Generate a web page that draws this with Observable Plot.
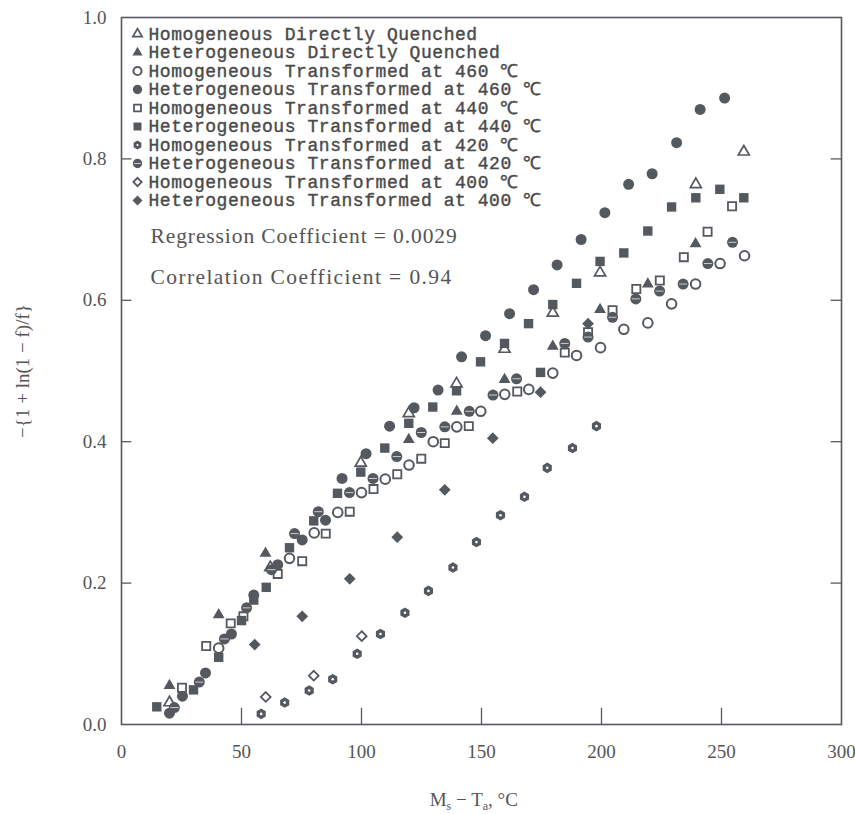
<!DOCTYPE html>
<html><head><meta charset="utf-8">
<script src="https://cdn.jsdelivr.net/npm/d3@7"></script>
<script src="https://cdn.jsdelivr.net/npm/@observablehq/plot@0.6"></script>
<style>html,body{margin:0;padding:0;background:#fff}svg{display:block}</style>
</head><body><div id="chart"></div>
<script>
// ---- data (Ms - Ta in °C, -{1+ln(1-f)/f}) ----
const seriesLabels = [
  "Homogeneous Directly Quenched",
  "Heterogeneous Directly Quenched",
  "Homogeneous Transformed at 460 ℃",
  "Heterogeneous Transformed at 460 ℃",
  "Homogeneous Transformed at 440 ℃",
  "Heterogeneous Transformed at 440 ℃",
  "Homogeneous Transformed at 420 ℃",
  "Heterogeneous Transformed at 420 ℃",
  "Homogeneous Transformed at 400 ℃",
  "Heterogeneous Transformed at 400 ℃"
];
const homDQ = [[20,0.031],[62,0.222],[99.7,0.370],[119.7,0.440],[139.6,0.482],[159.6,0.531],[179.7,0.582],[199.4,0.639],[239.3,0.764],[259.3,0.810]];
const hetDQ = [[20,0.055],[40.5,0.155],[60,0.242],[119.7,0.403],[139.7,0.443],[159.6,0.488],[179.7,0.535],[199.4,0.587],[219.3,0.623],[239.2,0.680]];
const hom460 = [[40.5,0.108],[70,0.235],[80.3,0.271],[90.1,0.300],[100,0.328],[109.9,0.347],[119.8,0.367],[129.9,0.400],[139.7,0.421],[149.7,0.443],[159.7,0.467],[169.7,0.474],[179.7,0.497],[189.6,0.522],[199.6,0.533],[209.3,0.559],[219.3,0.568],[229.2,0.595],[239.2,0.623],[249.4,0.652],[259.6,0.663]];
const het460 = [[20,0.016],[25.4,0.040],[35,0.073],[45.8,0.128],[55.1,0.183],[65.1,0.226],[75.3,0.261],[85,0.289],[91.9,0.348],[101.9,0.383],[111.7,0.422],[121.9,0.448],[131.9,0.473],[141.7,0.520],[151.7,0.550],[161.7,0.581],[171.7,0.615],[181.5,0.650],[191.5,0.686],[201.4,0.724],[211.3,0.764],[221.1,0.779],[231.3,0.823],[241.1,0.870],[251.3,0.886]];
const hom440 = [[25.2,0.052],[35.3,0.111],[45.5,0.143],[50.8,0.153],[65.1,0.213],[75.3,0.231],[85.1,0.270],[95.1,0.301],[105,0.333],[114.9,0.354],[124.9,0.376],[134.7,0.398],[144.7,0.422],[164.9,0.471],[184.7,0.526],[194.4,0.555],[204.6,0.586],[214.5,0.616],[224.3,0.628],[234.3,0.661],[244.2,0.697],[254.4,0.733]];
const het440 = [[14.7,0.025],[30,0.049],[40.5,0.095],[50,0.147],[55.1,0.176],[60.3,0.194],[70,0.250],[80.1,0.288],[90,0.327],[99.7,0.357],[109.7,0.391],[119.7,0.426],[129.7,0.449],[139.6,0.472],[149.6,0.513],[159.6,0.539],[169.6,0.567],[174.6,0.498],[179.7,0.594],[189.6,0.624],[199.4,0.655],[209.3,0.667],[219.3,0.698],[229.2,0.732],[239.3,0.745],[249.3,0.757],[259.3,0.745]];
const hom420 = [[58.2,0.015],[68,0.031],[78.2,0.048],[88,0.064],[98.2,0.100],[107.9,0.128],[118.1,0.158],[127.9,0.189],[138.1,0.222],[147.9,0.258],[157.9,0.296],[167.9,0.322],[177.4,0.363],[187.9,0.391],[197.9,0.422]];
const het420 = [[22,0.024],[32.4,0.060],[42.9,0.121],[52.1,0.165],[62.5,0.219],[72.1,0.270],[82,0.301],[95,0.328],[104.8,0.348],[114.7,0.379],[124.9,0.413],[134.7,0.421],[144.9,0.443],[154.8,0.466],[164.6,0.489],[184.7,0.539],[194.4,0.548],[204.6,0.576],[214.3,0.602],[224.2,0.613],[234,0.623],[244.3,0.652],[254.6,0.682]];
const hom400 = [[60.1,0.039],[80.1,0.069],[100.1,0.125]];
const het400 = [[55.5,0.113],[75.3,0.153],[95.1,0.206],[114.9,0.265],[134.7,0.332],[154.7,0.405],[174.6,0.470],[194.4,0.567]];
const xTicks = [0,50,100,150,200,250,300];
const yTicks = [0,0.2,0.4,0.6,0.8,1.0];
const regressionText = "Regression Coefficient = 0.0029";
const correlationText = "Correlation Coefficient = 0.94";
const yLabel = "−{1 + ln(1 − f)/f}";

// ---- styles ----
const ink = "#54595f";
const txt = "#555";
const hexSym = {draw(ctx, size){const r=Math.sqrt(size/2.598);for(let i=0;i<6;i++){const a=Math.PI/3*i+Math.PI/6;const px=r*Math.cos(a),py=r*Math.sin(a);if(i)ctx.lineTo(px,py);else ctx.moveTo(px,py);}ctx.closePath();}};
const lineSym = {draw(ctx, size){const r=Math.sqrt(size/Math.PI);ctx.moveTo(-r,0);ctx.lineTo(r,0);}};

const styles = [
  [{symbol:"triangle", r:4.1, fill:"white", stroke:ink, strokeWidth:1.7}],
  [{symbol:"triangle", r:4.4, fill:ink}],
  [{symbol:"circle", r:4.8, fill:"white", stroke:ink, strokeWidth:2}],
  [{symbol:"circle", r:5.5, fill:ink}],
  [{symbol:"square", r:4.6, fill:"white", stroke:ink, strokeWidth:1.8}],
  [{symbol:"square", r:5.3, fill:ink}],
  [{symbol:hexSym, r:4.8, fill:ink}, {symbol:"circle", r:1.3, fill:"white"}],
  [{symbol:"circle", r:5.5, fill:ink}, {symbol:lineSym, r:4, stroke:"white", strokeWidth:0.7}],
  [{symbol:"diamond2", r:4.4, fill:"white", stroke:ink, strokeWidth:1.8}],
  [{symbol:"diamond2", r:5.3, fill:ink}]
];
const seriesData = [homDQ, hetDQ, hom460, het460, hom440, het440, hom420, het420, hom400, het400];

const dataMarks = [];
seriesData.forEach((arr, i) => {
  styles[i].forEach(st => dataMarks.push(Plot.dot(arr, {x: d => d[0], y: d => d[1], ...st})));
});

const legendMarks = [];
seriesLabels.forEach((lab, i) => {
  const dy = 16.5 + i * 18.5;
  styles[i].forEach(st => {
    const s = {...st, r: st.r * 0.85};
    legendMarks.push(Plot.dot([lab], {frameAnchor:"top-left", dx:16, dy, ...s}));
  });
  legendMarks.push(Plot.text([lab], {frameAnchor:"top-left", dx:27, dy, text:d=>d, textAnchor:"start", lineAnchor:"middle",
    fontFamily:"Liberation Mono", fontSize:18, fill:"#4a4a4a", stroke:"#4a4a4a", strokeWidth:0.4}));
});

const chart = Plot.plot({
  width: 855, height: 814,
  marginLeft: 121, marginRight: 14, marginTop: 17, marginBottom: 90,
  style: {fontFamily: "Liberation Serif", fontSize: "19px", color: txt, background: "white"},
  x: {domain: [0, 300]},
  y: {domain: [0, 1]},
  marks: [
    Plot.axisX({ticks: xTicks, tickSize: 0, tickPadding: 20, label: null, tickFormat: d => String(d), fontSize: 19}),
    Plot.axisY({ticks: yTicks, tickSize: 0, tickPadding: 15, label: null, tickFormat: d => d.toFixed(1), fontSize: 19}),
    Plot.ruleX(xTicks.filter(d => d > 0 && d < 300), {x: d => d, y1: 0, y2: 0.023, stroke: ink, strokeWidth: 1.3}),
    Plot.ruleY(yTicks.filter(d => d > 0 && d < 1), {y: d => d, x1: 0, x2: 4.3, stroke: ink, strokeWidth: 1.3}),
    Plot.ruleY(yTicks.filter(d => d > 0 && d < 1), {y: d => d, x1: 295.7, x2: 300, stroke: ink, strokeWidth: 1.3}),
    Plot.frame({stroke: ink, strokeWidth: 1.6}),
    ...dataMarks,
    ...legendMarks,
    Plot.text([regressionText], {frameAnchor:"top-left", dx:29, dy:219, text:d=>d, textAnchor:"start", lineAnchor:"middle", fontSize:21.5, fill:txt}),
    Plot.text([correlationText], {frameAnchor:"top-left", dx:29, dy:260, text:d=>d, textAnchor:"start", lineAnchor:"middle", fontSize:21.5, fill:txt}),
    Plot.text([yLabel], {frameAnchor:"left", dx:-99, rotate:-90, text:d=>d, textAnchor:"middle", lineAnchor:"middle", fontSize:19, fill:txt})
  ]
});
document.getElementById("chart").appendChild(chart);

const svg = d3.select(chart);
// letter spacing tweaks to match the scanned typefaces
svg.selectAll("text").each(function(){
  const s = this.textContent;
  if (seriesLabels.includes(s)) this.style.letterSpacing = "0.55px";
  else if (s === regressionText) this.style.letterSpacing = "0.9px";
  else if (s === correlationText) this.style.letterSpacing = "1.4px";
});

// x-axis title with subscripts
const xs = chart.scale("x");
const t = svg.append("text").attr("x", xs.apply(147)).attr("y", 806).attr("text-anchor", "middle")
  .attr("font-family", "Liberation Serif").attr("font-size", 19).attr("fill", txt);
t.append("tspan").text("M");
t.append("tspan").attr("font-size", 12).attr("dy", 4).text("s");
t.append("tspan").attr("dy", -4).text(" − T");
t.append("tspan").attr("font-size", 12).attr("dy", 4).text("a");
t.append("tspan").attr("dy", -4).text(", °C");
</script>
</body></html>
